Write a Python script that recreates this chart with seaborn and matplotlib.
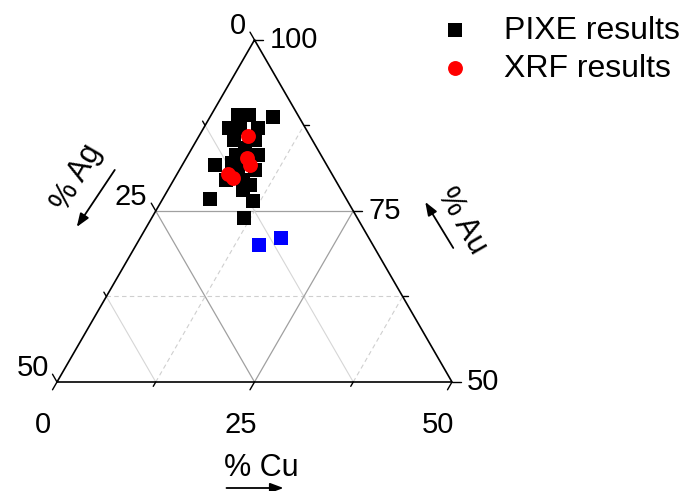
import numpy as np
import pandas as pd
import matplotlib
matplotlib.use("Agg")
import matplotlib.pyplot as plt
import seaborn as sns

# ---- compositions (wt %) ----
pixe_cu = [3.4, 4.8, 8.0, 3.2, 6.9, 4.6, 4.7, 7.4, 6.7, 6.1, 8.9, 4.1, 6.1, 9.6,
           6.6, 8.8, 9.5, 11.5, 6.0, 11.7, 7.3, 10.0]
pixe_au = [89.0, 89.0, 88.7, 87.1, 87.1, 87.1, 85.4, 85.4, 84.2, 83.2, 83.2, 81.7,
           82.0, 81.0, 79.5, 79.5, 78.1, 76.5, 76.8, 74.0, 81.3, 78.8]

xrf_cu = [6.2, 7.7, 8.6, 6.4, 7.4]
xrf_au = [86.0, 82.7, 81.7, 80.4, 79.8]

other_cu = [15.6, 17.8]
other_au = [70.0, 71.1]

cu_ticks = [0, 25, 50]
ag_ticks = [0, 25, 50]
au_ticks = [100, 75, 50]

SQ3 = np.sqrt(3) / 2


def to_xy(cu, au):
    """Ternary (Cu, Ag, Au) -> cartesian for the Au 50-100 sub-triangle."""
    cu = np.asarray(cu, float)
    au = np.asarray(au, float)
    b = cu / 50.0
    t = (au - 50.0) / 50.0
    return b + t / 2.0, t * SQ3


def frame(cu, au):
    x, y = to_xy(cu, au)
    return pd.DataFrame({"x": x, "y": y})


sns.set_style("white")
plt.rcParams["font.family"] = ["Liberation Sans", "DejaVu Sans"]
plt.rcParams["text.color"] = "black"

fig = plt.figure(figsize=(6.99, 4.91), dpi=100)
ax = fig.add_axes([0, 0, 1, 1])
S = 395.0
ax.set_xlim(-57 / S, (699 - 57) / S)
ax.set_ylim((382 - 491) / S, 382 / S)
ax.axis("off")

# ---- grid ----
def seg(p, q, **kw):
    (x0, y0), (x1, y1) = to_xy(*p), to_xy(*q)
    ax.plot([x0, x1], [y0, y1], **kw)

major = dict(color="#a0a0a0", lw=0.9, zorder=1)
minor_solid = dict(color="#d6d6d6", lw=0.8, zorder=1)
minor_dash = dict(color="#cfcfcf", lw=0.8, ls=(0, (4, 3)), zorder=1)

# points given as (Cu, Au)
# constant Au (horizontal)
seg((0, 75), (25, 75), **major)
seg((0, 62.5), (37.5, 62.5), **minor_dash)
# constant Ag (parallel to right edge): Ag = 100 - Cu - Au
seg((0, 75), (25, 50), **major)
seg((0, 87.5), (37.5, 50), **minor_solid)
seg((0, 62.5), (12.5, 50), **minor_solid)
# constant Cu (parallel to left edge)
seg((25, 50), (25, 75), **major)
seg((12.5, 50), (12.5, 87.5), **minor_dash)
seg((37.5, 50), (37.5, 62.5), **minor_dash)

# ---- triangle ----
corners = [(0, 100), (0, 50), (50, 50), (0, 100)]
tx, ty = to_xy([c[0] for c in corners], [c[1] for c in corners])
ax.plot(tx, ty, color="black", lw=1.2, zorder=3, solid_joinstyle="miter")

# ---- ticks ----
ang_ag = np.deg2rad(120)
ang_au = 0.0
ang_cu = np.deg2rad(240)
L_major, L_minor = 9 / S, 5 / S


def tick(x, y, ang, L):
    ax.plot([x, x + L * np.cos(ang)], [y, y + L * np.sin(ang)],
            color="black", lw=1.0, zorder=3)

fs_tick = 21
for ag in [0, 12.5, 25, 37.5, 50]:
    x, y = to_xy(0, 100 - ag)
    tick(x, y, ang_ag, L_major if ag in ag_ticks else L_minor)
for au in [100, 87.5, 75, 62.5, 50]:
    x, y = to_xy(100 - au, au)
    tick(x, y, ang_au, L_major if au in au_ticks else L_minor)
for cu in [0, 12.5, 25, 37.5, 50]:
    x, y = to_xy(cu, 50)
    tick(x, y, ang_cu, L_major if cu in cu_ticks else L_minor)

for ag in ag_ticks:
    x, y = to_xy(0, 100 - ag)
    ax.annotate(str(ag), (x, y), xytext=(-6, 10), textcoords="offset points",
                ha="right", va="center", fontsize=fs_tick)
for au in au_ticks:
    x, y = to_xy(100 - au, au)
    ax.annotate(str(au), (x, y), xytext=(11, 0), textcoords="offset points",
                ha="left", va="center", fontsize=fs_tick)
for cu in cu_ticks:
    x, y = to_xy(cu, 50)
    ax.annotate(str(cu), (x, y), xytext=(-10, -31), textcoords="offset points",
                ha="center", va="center", fontsize=fs_tick)

# ---- axis titles with arrows ----
fs_lab = 22
arrow = dict(arrowstyle="-|>,head_length=0.8,head_width=0.3", color="black", lw=1.3,
             shrinkA=0, shrinkB=0)
# Cu
x, y = to_xy(25, 50)
ax.annotate("% Cu", (x, y), xytext=(5, -62), textcoords="offset points",
            ha="center", va="center", fontsize=fs_lab)
ax.annotate("", xy=(x + 29 / S, y - 106 / S), xytext=(x - 28 / S, y - 106 / S),
            arrowprops=arrow)
# Ag
x, y = to_xy(0, 75)
ax.annotate("% Ag", (x, y), xytext=(-57, 24), textcoords="offset points",
            ha="center", va="center", fontsize=fs_lab, rotation=60,
            rotation_mode="anchor")
ax.annotate("", xy=(x - 79 / S, y - 16 / S), xytext=(x - 41 / S, y + 41 / S),
            arrowprops=arrow)
# Au
x, y = to_xy(25, 75)
ax.annotate("% Au", (x, y), xytext=(78, -7), textcoords="offset points",
            ha="center", va="center", fontsize=fs_lab, rotation=-60,
            rotation_mode="anchor")
ax.annotate("", xy=(x + 72 / S, y + 9 / S), xytext=(x + 100 / S, y - 37 / S),
            arrowprops=arrow)

# ---- data ----
sns.scatterplot(data=frame(pixe_cu, pixe_au), x="x", y="y", ax=ax, marker="s",
                s=100, color="black", linewidth=0, label="PIXE results", zorder=4)
sns.scatterplot(data=frame(other_cu, other_au), x="x", y="y", ax=ax, marker="s",
                s=100, color="#0000ff", linewidth=0, label="_nolegend_", zorder=4)
sns.scatterplot(data=frame(xrf_cu, xrf_au), x="x", y="y", ax=ax, marker="o",
                s=115, color="#ff0000", linewidth=0, label="XRF results", zorder=5)

ax.set_xlim(-57 / S, (699 - 57) / S)
ax.set_ylim((382 - 491) / S, 382 / S)
ax.legend(loc="upper left", bbox_to_anchor=(0.605, 0.968), frameon=False,
          fontsize=23, handletextpad=0.55, borderpad=0, borderaxespad=0,
          labelspacing=0.25)

fig.savefig("out.png", dpi=100)
